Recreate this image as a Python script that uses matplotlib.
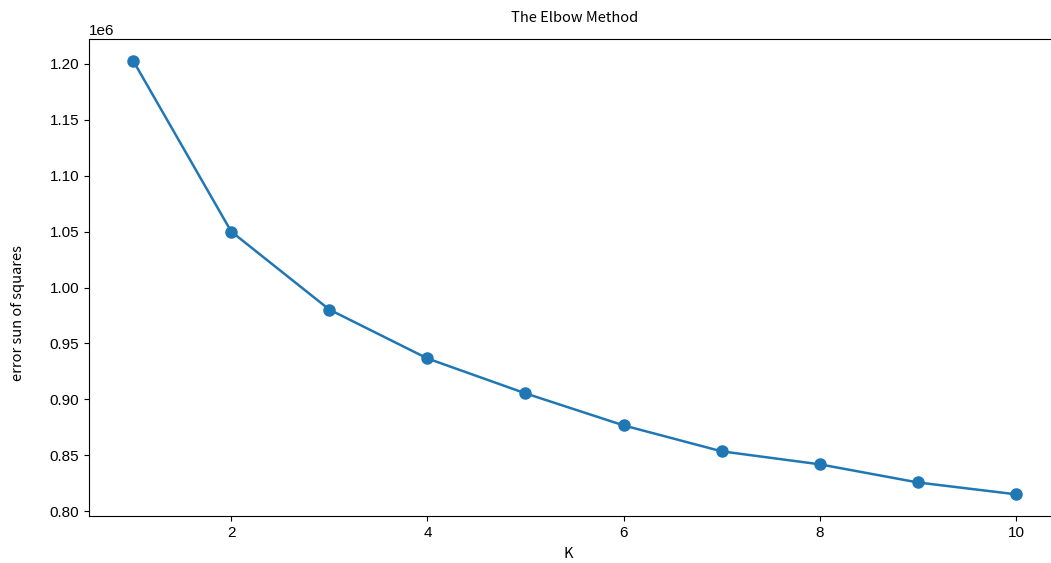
import matplotlib
matplotlib.use("Agg")
import matplotlib.pyplot as plt

k_values = [1, 2, 3, 4, 5, 6, 7, 8, 9, 10]
sse_values = [1202700, 1050000, 980300, 936600, 905400, 876800, 853600, 842000, 825800, 815200]

plt.rcParams['font.family'] = ['Liberation Sans', 'DejaVu Sans']

fig = plt.figure(figsize=(10.51, 5.63), dpi=100)
ax = fig.add_axes([0.0847, 0.0835, 1.0086 - 0.0847, 0.9307 - 0.0835])
ax.plot(k_values, sse_values, marker='o', markersize=8, linewidth=1.8, color='#1f77b4')

lab_font = ['Noto Sans CJK SC', 'DejaVu Sans']
ax.set_title('The Elbow Method', family=lab_font, fontsize=10.5, fontweight='medium', pad=12)
ax.set_xlabel('K', family=lab_font, fontsize=10.5)
ax.set_ylabel('error sun of squares', family=lab_font, fontsize=10.5)
ax.xaxis.set_label_coords(0.4933, -0.066)
ax.yaxis.set_label_coords(-0.066, 0.4256)
ax.tick_params(labelsize=11)
ax.yaxis.get_offset_text().set_fontsize(11)

fig.savefig('out.png', dpi=100)
